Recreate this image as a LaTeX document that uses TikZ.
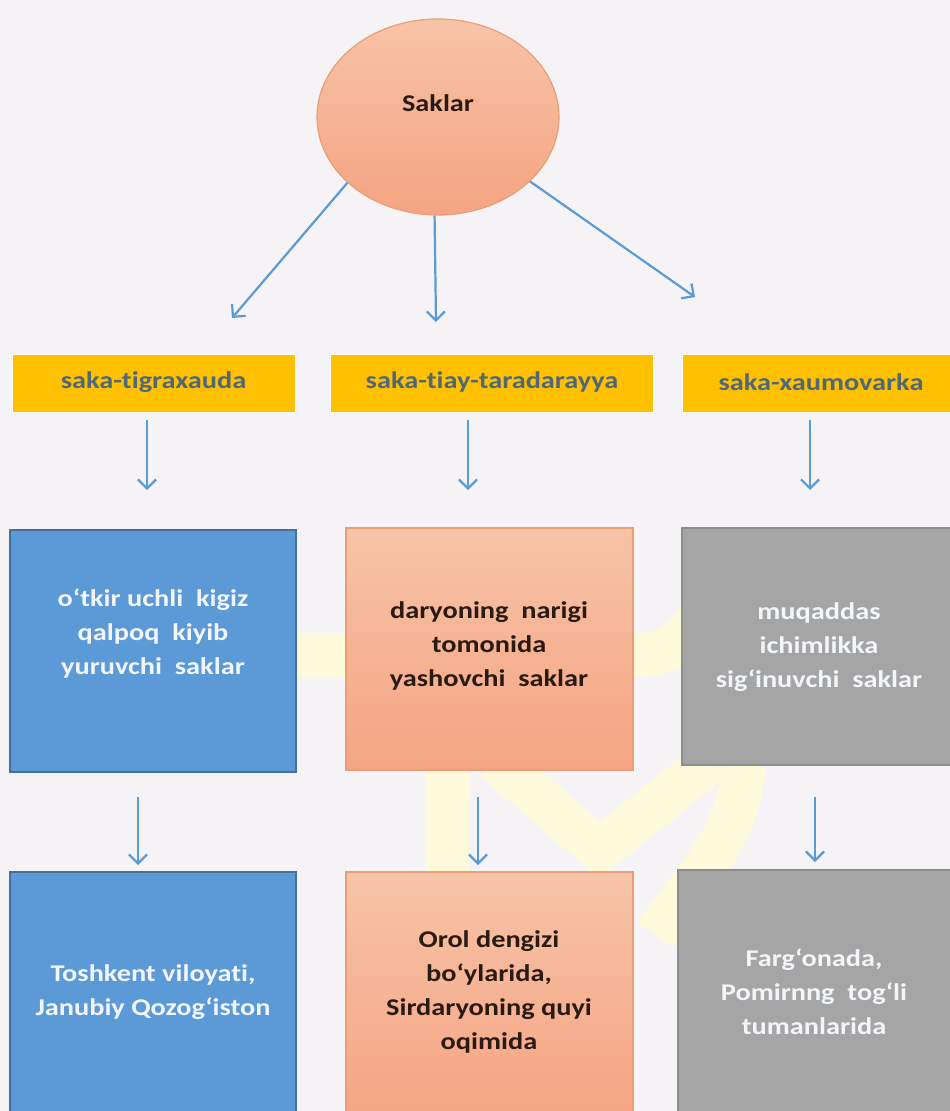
\documentclass[tikz,border=0pt]{standalone}
\usepackage{fontspec}
\setmainfont{Carlito}[FakeStretch=1.18, Ligatures=NoCommon]
\usetikzlibrary{arrows.meta,shapes.geometric}
\definecolor{bgc}{HTML}{F6F3F7}
\definecolor{wmc}{HTML}{FCFADA}
\definecolor{arrc}{HTML}{5B9BD5}
\definecolor{bluef}{HTML}{5B9AD6}
\definecolor{blued}{HTML}{41719C}
\definecolor{grayf}{HTML}{A5A5A5}
\definecolor{grayd}{HTML}{8E8E8E}
\definecolor{yelf}{HTML}{FFC000}
\definecolor{yelt}{HTML}{4E6878}
\definecolor{orat}{HTML}{F7C3A7}
\definecolor{orab}{HTML}{F5A482}
\definecolor{orad}{HTML}{E99E76}
\definecolor{darkt}{HTML}{2A1A14}
\definecolor{lightt}{HTML}{F2F5FA}
\begin{document}
\begin{tikzpicture}[x=1pt,y=-1pt,
  txt/.style={font=\fontsize{24}{34}\selectfont\bfseries, align=center, inner sep=0pt},
  box/.style={rectangle, inner sep=0pt, line width=1.2pt},
  yelbox/.style={box, fill=yelf, draw=white, line width=1pt, minimum height=58pt},
  bluebox/.style={box, fill=bluef, draw=blued},
  graybox/.style={box, fill=grayf, draw=grayd},
  orabox/.style={box, top color=orat, bottom color=orab, draw=orad},
  arr/.style={draw=arrc, line width=2.2pt, -{Straight Barb[length=9pt,width=18pt,line width=2.2pt]}},
  wm/.style={draw=wmc, line width=44pt}
]
\useasboundingbox (0,0) rectangle (950,1111);
\fill[bgc] (0,0) rectangle (950,1111);
% faint watermark
\draw[wm] (285,655) -- (640,655) to[out=0,in=240] (700,615);
\draw[wm] (447,765) -- (447,875);
\draw[wm, line join=miter] (495,760) -- (600,850) -- (712,760);
\draw[wm] (744,765) to[out=-95,in=55] (655,935);

% top ellipse
\node[ellipse, minimum width=242pt, minimum height=196pt, top color=orat, bottom color=orab, draw=orad, line width=1.2pt] (ell) at (438,117) {};
\node[txt, text=darkt] (sak) at (438,103) {Saklar};

% yellow boxes
\node[yelbox, minimum width=283pt] (y1) at (153.5,383) {};
\node[txt, text=yelt] (y1t) at (153.5,382) {saka-tigraxauda};
\node[yelbox, minimum width=323pt] (y2) at (491.5,383) {};
\node[txt, text=yelt] (y2t) at (492,382) {saka-tiay-taradarayya};
\node[yelbox, minimum width=280pt] (y3) at (822,383) {};
\node[txt, text=yelt] (y3t) at (821,382) {saka-xaumovarka};

% middle boxes
\node[bluebox, minimum width=286pt, minimum height=242pt] (m1) at (153,651) {};
\node[txt, text=lightt] (m1t) at (153,634) {o‘tkir uchli~ kigiz\\qalpoq~ kiyib\\yuruvchi~ saklar};
\node[orabox, minimum width=287pt, minimum height=242pt] (m2) at (489.5,649) {};
\node[txt, text=darkt] (m2t) at (489,646) {daryoning~ narigi\\tomonida\\yashovchi~ saklar};
\node[graybox, minimum width=290pt, minimum height=237pt] (m3) at (827,646.5) {};
\node[txt, text=lightt] (m3t) at (819,647) {muqaddas\\ichimlikka\\sig‘inuvchi~ saklar};

% bottom boxes
\node[bluebox, minimum width=286pt, minimum height=250pt] (b1) at (153,997) {};
\node[txt, text=lightt] (b1t) at (153,992) {Toshkent viloyati,\\Janubiy Qozog‘iston};
\node[orabox, minimum width=287pt, minimum height=250pt] (b2) at (489.5,997) {};
\node[txt, text=darkt] (b2t) at (489,992) {Orol dengizi\\bo‘ylarida,\\Sirdaryoning quyi\\oqimida};
\node[graybox, minimum width=290pt, minimum height=252pt] (b3) at (823,996) {};
\node[txt, text=lightt] (b3t) at (814,992) {Farg‘onada,\\Pomirnng~ tog‘li\\tumanlarida};

% arrow coordinates
\coordinate (e1) at (232,318);
\coordinate (e2) at (436,322);
\coordinate (e3) at (695,297);
\coordinate (d1s) at (147,420); \coordinate (d1e) at (147,490);
\coordinate (d2s) at (468,420); \coordinate (d2e) at (468,490);
\coordinate (d3s) at (810,420); \coordinate (d3e) at (810,490);
\coordinate (f1s) at (138,797); \coordinate (f1e) at (138,865);
\coordinate (f2s) at (478,797); \coordinate (f2e) at (478,865);
\coordinate (f3s) at (815,797); \coordinate (f3e) at (815,862);

\draw[arr] (ell.216) -- (e1);
\draw[arr] (ell.268) -- (e2);
\draw[arr] (ell.-35) -- (e3);
\draw[arr] (d1s) -- (d1e);
\draw[arr] (d2s) -- (d2e);
\draw[arr] (d3s) -- (d3e);
\draw[arr] (f1s) -- (f1e);
\draw[arr] (f2s) -- (f2e);
\draw[arr] (f3s) -- (f3e);
\end{tikzpicture}
\end{document}
